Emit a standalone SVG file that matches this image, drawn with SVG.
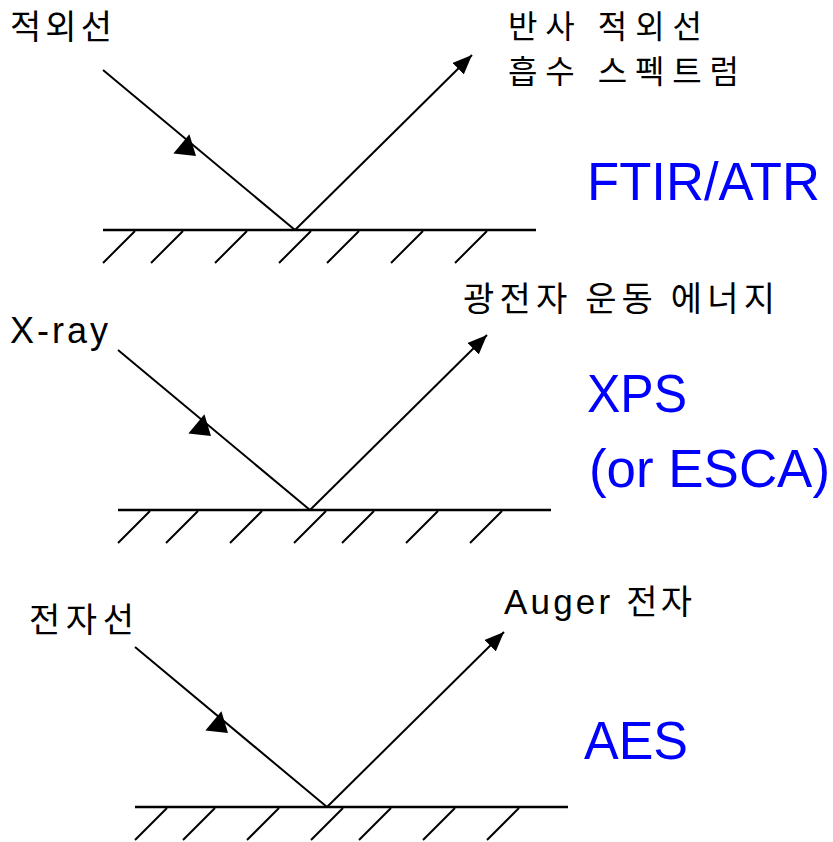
<svg xmlns="http://www.w3.org/2000/svg" xmlns:xlink="http://www.w3.org/1999/xlink" width="833" height="842" viewBox="0 0 833 842">
  <style>
    .ground { stroke: #000; stroke-width: 2.5; fill: none; }
    .hatch { stroke: #000; stroke-width: 2; fill: none; }
    .beam { stroke: #000; stroke-width: 2; fill: none; }
    .lbl { font-family: "Liberation Sans", "Noto Sans CJK KR", sans-serif; fill: #000; }
    .kr { font-family: "Noto Sans CJK KR", "Liberation Sans", sans-serif; font-size: 34px; fill: #000; }
    .kr2 { font-family: "Noto Sans CJK KR", "Liberation Sans", sans-serif; font-size: 32px; fill: #000; }
    .tech { font-family: "Liberation Sans", "Noto Sans CJK KR", sans-serif; font-size: 53px; fill: #0000FF; }
  </style>
  <defs>
    <marker id="endArrow" markerUnits="userSpaceOnUse" markerWidth="20" markerHeight="16" refX="17" refY="7" orient="auto" viewBox="0 0 17 14">
      <path d="M0,0 L17,7 L0,14 Z" fill="#000"/>
    </marker>
    <path id="midArrow" d="M0,0 L-19,-12.5 L-19,12.5 Z" fill="#000"/>
  </defs>

  <g id="surface-ftir">
    <line class="ground" x1="103" y1="230" x2="536" y2="230"/>
    <path class="hatch" d="M103,263 L135,231 M151,263 L183,231 M215,263 L247,231 M279,263 L311,231 M327,263 L359,231 M391,263 L423,231 M455,263 L487,231"/>
  </g>
  <g id="surface-xps">
    <line class="ground" x1="118" y1="510" x2="551" y2="510"/>
    <path class="hatch" d="M118,543 L150,511 M166,543 L198,511 M230,543 L262,511 M294,543 L326,511 M342,543 L374,511 M406,543 L438,511 M470,543 L502,511"/>
  </g>
  <g id="surface-aes">
    <line class="ground" x1="135" y1="807" x2="568" y2="807"/>
    <path class="hatch" d="M135,840 L167,808 M183,840 L215,808 M247,840 L279,808 M311,840 L343,808 M359,840 L391,808 M423,840 L455,808 M487,840 L519,808"/>
  </g>

  <g id="connectors">
    <line class="beam" x1="103" y1="70" x2="295" y2="230"/>
    <use xlink:href="#midArrow" href="#midArrow" transform="translate(196,156) rotate(39.8)"/>
    <line class="beam" x1="295" y1="230" x2="472" y2="55" marker-end="url(#endArrow)"/>

    <line class="beam" x1="118" y1="350" x2="310" y2="510"/>
    <use xlink:href="#midArrow" href="#midArrow" transform="translate(211,436) rotate(39.8)"/>
    <line class="beam" x1="310" y1="510" x2="487" y2="335" marker-end="url(#endArrow)"/>

    <line class="beam" x1="135" y1="647" x2="327" y2="807"/>
    <use xlink:href="#midArrow" href="#midArrow" transform="translate(228,733) rotate(39.8)"/>
    <line class="beam" x1="327" y1="807" x2="504" y2="632" marker-end="url(#endArrow)"/>
  </g>

  <g id="label-ftir-in"><text class="kr" x="10" y="39" textLength="102">적외선</text></g>
  <g id="label-ftir-out">
    <text class="kr2" x="508" y="38" textLength="194">반사 적외선</text>
    <text class="kr2" x="508" y="83" textLength="231">흡수 스펙트럼</text>
  </g>
  <g id="label-ftir"><text class="tech" x="587" y="200" textLength="233" lengthAdjust="spacingAndGlyphs">FTIR/ATR</text></g>

  <g id="label-xps-in"><text class="lbl" x="10" y="343" font-size="36" textLength="98">X-ray</text></g>
  <g id="label-xps-out"><text class="kr" x="463" y="311" textLength="312">광전자 운동 에너지</text></g>
  <g id="label-xps">
    <text class="tech" x="587" y="412" textLength="100" lengthAdjust="spacingAndGlyphs">XPS</text>
    <text class="tech" x="589" y="487" textLength="241" lengthAdjust="spacingAndGlyphs">(or ESCA)</text>
  </g>

  <g id="label-aes-in"><text class="kr" x="29" y="632" textLength="105">전자선</text></g>
  <g id="label-aes-out"><text class="lbl" x="504" y="614" font-size="35" textLength="188">Auger <tspan font-family="Noto Sans CJK KR, sans-serif" font-size="34">전자</tspan></text></g>
  <g id="label-aes"><text class="tech" x="584" y="759" textLength="104" lengthAdjust="spacingAndGlyphs">AES</text></g>
</svg>
